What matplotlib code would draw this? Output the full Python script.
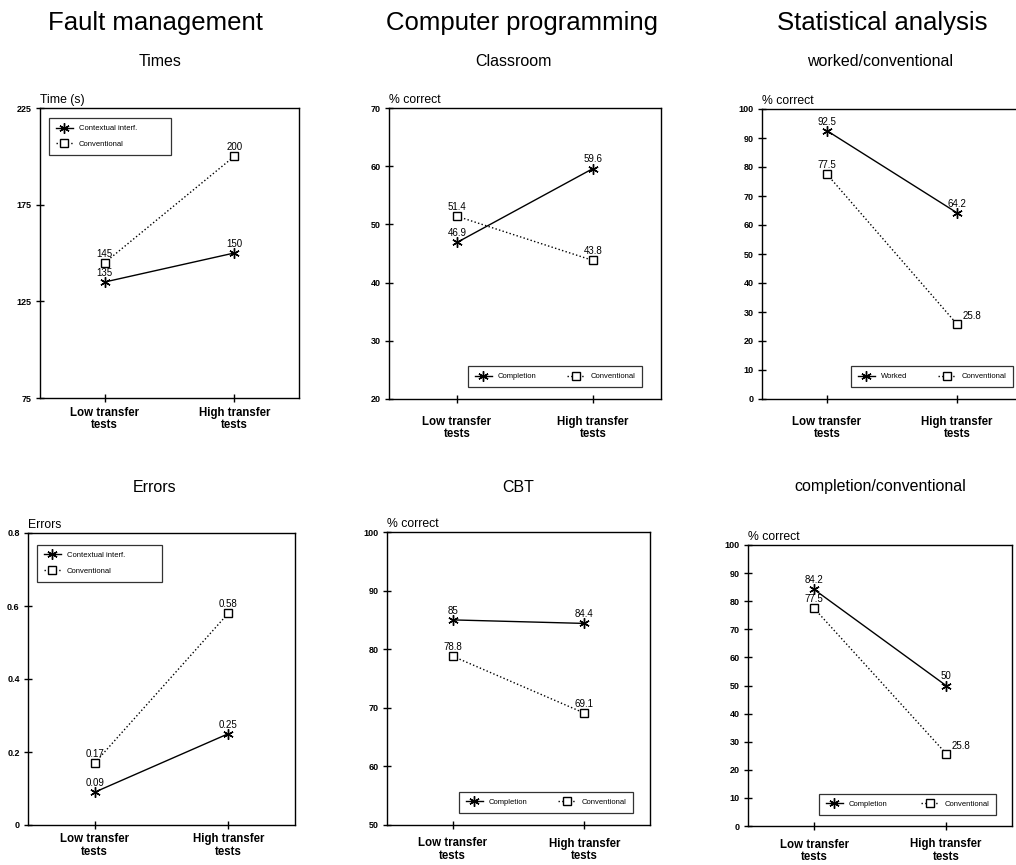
import matplotlib
matplotlib.use("Agg")
import matplotlib.pyplot as plt

plt.rcParams['font.family'] = ['Liberation Sans', 'DejaVu Sans']

categories = ["Low transfer\ntests", "High transfer\ntests"]

# Fault management
times_contextual = [135, 150]
times_conventional = [145, 200]
errors_contextual = [0.09, 0.25]
errors_conventional = [0.17, 0.58]
# Computer programming
classroom_completion = [46.9, 59.6]
classroom_conventional = [51.4, 43.8]
cbt_completion = [85, 84.4]
cbt_conventional = [78.8, 69.1]
# Statistical analysis
worked_worked = [92.5, 64.2]
worked_conventional = [77.5, 25.8]
completion_completion = [84.2, 50]
completion_conventional = [77.5, 25.8]

group_titles = ["Fault management", "Computer programming", "Statistical analysis"]
panel_titles = ["Times", "Classroom", "worked/conventional",
                "Errors", "CBT", "completion/conventional"]
y_labels = ["Time (s)", "% correct", "% correct", "Errors", "% correct", "% correct"]

W, H = 1016, 865
fig = plt.figure(figsize=(W / 100, H / 100), dpi=100)


def rect(x0, x1, y0, y1):
    return [x0 / W, 1 - y1 / H, (x1 - x0) / W, (y1 - y0) / H]


panels = [
    dict(rect=rect(40, 299, 108, 398), ylim=(75, 225), ticks=[75, 125, 175, 225],
         series=[("Contextual interf.", times_contextual, "-", "ast"),
                 ("Conventional", times_conventional, ":", "sq")],
         leg=dict(bbox=(0.035, 0.838, 0.471, 0.138), ncol=1),
         xpad=3.5, off={}),
    dict(rect=rect(389, 661, 108, 399), ylim=(20, 70), ticks=[20, 30, 40, 50, 60, 70],
         series=[("Completion", classroom_completion, "-", "ast"),
                 ("Conventional", classroom_conventional, ":", "sq")],
         leg=dict(bbox=(0.290, 0.041, 0.640, 0.079), ncol=2),
         xpad=9, off={}),
    dict(rect=rect(762, 1022, 109, 399), ylim=(0, 100), ticks=list(range(0, 101, 10)),
         series=[("Worked", worked_worked, "-", "ast"),
                 ("Conventional", worked_conventional, ":", "sq")],
         leg=dict(bbox=(0.342, 0.041, 0.623, 0.083), ncol=2),
         xpad=9, off={(1, 1): (4, 2, "left")}),
    dict(rect=rect(28, 295, 533, 825), ylim=(0, 0.8), ticks=[0, 0.2, 0.4, 0.6, 0.8],
         series=[("Contextual interf.", errors_contextual, "-", "ast"),
                 ("Conventional", errors_conventional, ":", "sq")],
         leg=dict(bbox=(0.034, 0.833, 0.468, 0.140), ncol=1),
         xpad=3, off={}),
    dict(rect=rect(387, 650, 532, 825), ylim=(50, 100), ticks=[50, 60, 70, 80, 90, 100],
         series=[("Completion", cbt_completion, "-", "ast"),
                 ("Conventional", cbt_conventional, ":", "sq")],
         leg=dict(bbox=(0.274, 0.041, 0.661, 0.085), ncol=2),
         xpad=6, off={}),
    dict(rect=rect(748, 1012, 545, 826), ylim=(0, 100), ticks=list(range(0, 101, 10)),
         series=[("Completion", completion_completion, "-", "ast"),
                 ("Conventional", completion_conventional, ":", "sq")],
         leg=dict(bbox=(0.269, 0.039, 0.670, 0.085), ncol=2),
         xpad=6, off={(1, 1): (4, 2, "left")}),
]

marker_styles = {
    "ast": dict(marker=(6, 2, 0), markersize=7.5, markeredgewidth=1.0,
                markerfacecolor="black", markeredgecolor="black"),
    "sq": dict(marker="s", markersize=5.5, markeredgewidth=1.0,
               markerfacecolor="white", markeredgecolor="black"),
}

xpos = [0, 1]
for i, p in enumerate(panels):
    ax = fig.add_axes(p["rect"])
    handles = []
    for si, (name, vals, ls, mk) in enumerate(p["series"]):
        h, = ax.plot(xpos, vals, linestyle=ls, color="black", linewidth=1.0,
                     label=name, **marker_styles[mk])
        handles.append(h)
        for xi, (x, v) in enumerate(zip(xpos, vals)):
            dx, dy, ha = p["off"].get((si, xi), (0, 3, "center"))
            ax.annotate(f"{v:g}", (x, v), xytext=(dx, dy), textcoords="offset points",
                        ha=ha, va="bottom", fontsize=7)
    ax.set_xlim(-0.5, 1.5)
    ax.set_ylim(*p["ylim"])
    ax.set_yticks(p["ticks"])
    ax.set_yticklabels([f"{t:g}" for t in p["ticks"]], fontsize=6.5, fontweight="bold")
    ax.set_xticks(xpos)
    ax.set_xticklabels(categories, fontsize=8.3, fontweight="bold", linespacing=1.05)
    ax.tick_params(direction="inout", length=6, width=1, pad=3)
    ax.tick_params(axis="x", pad=p["xpad"])
    for s in ax.spines.values():
        s.set_linewidth(1.0)
    ax.text(0.0, 1.008, y_labels[i], transform=ax.transAxes, ha="left", va="bottom",
            fontsize=8.8)
    lg = ax.legend(handles=handles, loc="lower left", bbox_to_anchor=p["leg"]["bbox"],
                   mode="expand", ncol=p["leg"]["ncol"], fontsize=5.5, frameon=True,
                   fancybox=False, edgecolor="black", borderaxespad=0, handlelength=2.2,
                   columnspacing=2.0, borderpad=0.9, labelspacing=1.1)
    lg.get_frame().set_linewidth(0.9)

# Group and panel titles
group_x = [155, 522, 882]
for gx, t in zip(group_x, group_titles):
    fig.text(gx / W, 1 - 23 / H, t, ha="center", va="center", fontsize=18.5)
top_x = [160, 513, 880]
for tx, t in zip(top_x, panel_titles[:3]):
    fig.text(tx / W, 1 - 62 / H, t, ha="center", va="center", fontsize=11.5)
bot_x = [155, 518, 880]
for bx, t in zip(bot_x, panel_titles[3:]):
    fig.text(bx / W, 1 - 487 / H, t, ha="center", va="center", fontsize=11.5)

fig.savefig("out.png", dpi=100)
